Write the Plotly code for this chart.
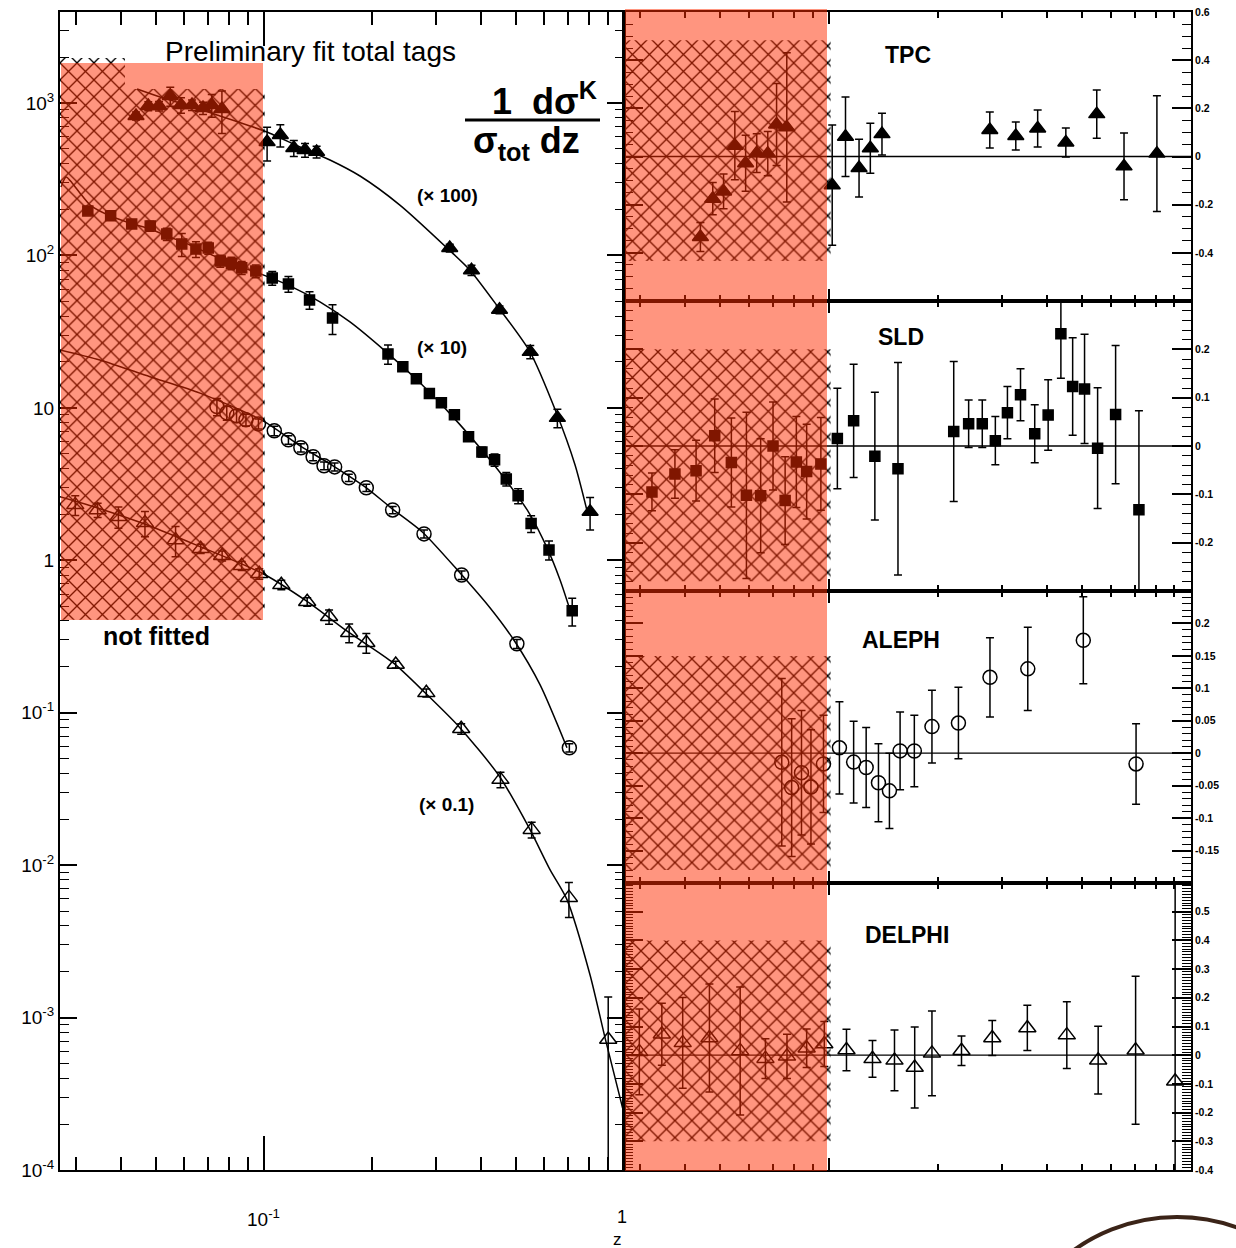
import plotly.graph_objects as go

W, H = 1236, 1248
def fx(p): return p / W
def fy(p): return 1 - p / H

FONT = "Liberation Sans, Arial, Helvetica, sans-serif"

# ---------------- data ----------------
# TPC (x100)
TPC_Z = [0.0441, 0.0477, 0.0511, 0.0549, 0.0588, 0.0631, 0.0677, 0.0716, 0.0764,
         0.102, 0.111, 0.121, 0.130, 0.140, 0.278, 0.328, 0.377, 0.451, 0.549, 0.653, 0.805]
TPC_LEFT = [822, 955, 955, 1111, 970, 970, 927, 970, 914,
            555, 617, 507, 492, 478, None, 112, 80, 44, 23.3, 8.6, 2.08]
TPC_RATIO = [-0.334, -0.175, -0.145, 0.045, -0.028, 0.014, 0.012, 0.133, 0.121,
             -0.119, 0.082, -0.048, 0.034, 0.093, 0.11, 0.085, 0.116, 0.058, 0.176, -0.041, 0.012]
TPC_ERR = [0.06, 0.067, 0.072, 0.142, 0.116, 0.08, 0.092, 0.17, 0.31,
           0.25, 0.165, 0.12, 0.104, 0.087, 0.075, 0.058, 0.077, 0.06, 0.1, 0.139, 0.24]
TPC_FIT_Z = [0.0444, 0.0514, 0.0623, 0.0755, 0.0914, 0.1019, 0.126, 0.1525, 0.1848,
             0.2385, 0.3223, 0.3734, 0.4467, 0.548, 0.6473, 0.7309, 0.7943]
TPC_FIT_Y = [1235, 1095, 956, 822, 707, 645, 514, 423, 332, 214, 112, 80, 45.9, 23.3, 9.42, 4.23, 1.99]

# SLD (x10)
SLD_Z = [0.0324, 0.0375, 0.0429, 0.0483, 0.0537, 0.0591, 0.0647, 0.0700, 0.0756, 0.0812,
         0.0867, 0.0949, 0.1054, 0.1169, 0.1338, 0.155, 0.221, 0.243, 0.265, 0.288,
         0.311, 0.338, 0.370, 0.403, 0.437, 0.471, 0.508, 0.552, 0.619, 0.718]
SLD_LEFT = [196, 182, 161, 156, 138, 119, 110, 112, 92, 89, 83, 79, 71, 65, 51, 38.9,
            22.6, 18.6, 15.5, 12.4, 10.8, 9.0, 6.46, 5.14, 4.56, 3.42, 2.65, 1.74, 1.17, 0.467]
SLD_RATIO = [-0.095, -0.058, -0.051, 0.021, -0.034, -0.102, -0.103, 0.0, -0.113, -0.033,
             -0.053, -0.037, 0.0155, 0.052, -0.021, -0.047, 0.030, 0.046, 0.046, 0.011,
             0.069, 0.106, 0.0255, 0.064, 0.232, 0.123, 0.118, -0.0045, 0.065, -0.132]
SLD_ERR = [0.039, 0.05, 0.063, 0.076, 0.092, 0.172, 0.118, 0.091, 0.091, 0.094,
           0.098, 0.096, 0.104, 0.117, 0.132, 0.22, 0.145, 0.049, 0.049, 0.05,
           0.054, 0.054, 0.06, 0.073, 0.092, 0.101, 0.113, 0.125, 0.143, 0.205]
SLD_FIT_Z = [0.0273, 0.0282, 0.0293, 0.0308, 0.0329, 0.0373, 0.0424, 0.0482, 0.0548, 0.0623,
             0.0708, 0.0804, 0.0994, 0.118, 0.143, 0.1733, 0.2183, 0.2712, 0.3328, 0.398,
             0.4642, 0.5446, 0.611, 0.664, 0.7079]
SLD_FIT_Y = [281, 327, 299, 257, 214, 182, 163, 149, 132, 117, 102, 89.3, 74.5, 63.1, 49.6,
             36.6, 23.3, 14.6, 8.86, 5.47, 3.48, 2.05, 1.21, 0.745, 0.473]

# ALEPH (x1)
ALEPH_Z = [0.074, 0.0788, 0.0839, 0.0891, 0.0965, 0.1068, 0.1169, 0.1266, 0.1369, 0.1468,
           0.1571, 0.172, 0.1924, 0.2277, 0.2783, 0.354, 0.504, 0.705]
ALEPH_LEFT = [10.2, 9.27, 8.87, 8.35, 7.85, 7.07, 6.17, 5.47, 4.78, 4.17, 4.10, 3.48,
              2.99, 2.14, 1.49, 0.80, 0.283, 0.0589]
ALEPH_RATIO = [-0.014, -0.053, -0.030, -0.052, -0.0165, 0.0083, -0.0137, -0.022, -0.0455,
               -0.058, 0.0036, 0.0034, 0.041, 0.0465, 0.117, 0.13, 0.174, -0.0165]
ALEPH_ERR = [0.129, 0.106, 0.096, 0.088, 0.075, 0.071, 0.063, 0.0615, 0.06, 0.058, 0.06,
             0.055, 0.056, 0.055, 0.061, 0.064, 0.067, 0.062]
ALEPH_FIT_Z = [0.0271, 0.035, 0.0482, 0.0664, 0.0994, 0.126, 0.1555, 0.1909, 0.2253, 0.2748,
               0.350, 0.4243, 0.498, 0.5843, 0.6944]
ALEPH_FIT_Y = [24.0, 20.6, 16.0, 12.5, 8.22, 5.63, 4.17, 3.03, 2.21, 1.54, 0.828, 0.488,
               0.292, 0.1527, 0.0589]

# DELPHI (x0.1)
DELPHI_Z = [0.0299, 0.0345, 0.0394, 0.0467, 0.0568, 0.0667, 0.0765, 0.0867, 0.097, 0.1117,
            0.1318, 0.1516, 0.1724, 0.1924, 0.2322, 0.2824, 0.353, 0.4538, 0.554, 0.703, 0.904]
DELPHI_LEFT = [2.31, 2.14, 1.93, 1.76, 1.36, 1.19, 1.07, 0.92, 0.815, 0.69, 0.534, 0.426,
               0.335, 0.288, 0.207, 0.135, 0.0785, 0.0364, 0.0171, 0.00612, 0.000718]
DELPHI_RATIO = [0.0116, 0.073, 0.043, 0.06, 0.015, -0.012, -0.004, 0.024, 0.039, 0.018,
                -0.0127, -0.018, -0.043, 0.0064, 0.0156, 0.06, 0.095, 0.07, -0.0174, 0.0174, -0.091]
DELPHI_ERR = [0.149, 0.108, 0.158, 0.188, 0.223, 0.069, 0.077, 0.067, 0.078, 0.072,
              0.064, 0.106, 0.141, 0.148, 0.0515, 0.061, 0.079, 0.116, 0.118, 0.258, 0.9]
DELPHI_FIT_Z = [0.0271, 0.035, 0.0482, 0.0664, 0.0994, 0.1308, 0.171, 0.2282, 0.2783, 0.348,
                0.4496, 0.5446, 0.6229, 0.6944, 0.8045, 0.8855, 0.9936]
DELPHI_FIT_Y = [2.61, 2.18, 1.68, 1.23, 0.816, 0.543, 0.340, 0.213, 0.1373, 0.081, 0.0386,
                0.0176, 0.00934, 0.00594, 0.00191, 0.000739, 0.000249]

# band limits (hatched regions)
Z_MIN = 0.0271
LEFT_BAND_LO, LEFT_BAND_HI, LEFT_BAND_TOP, Z_STEP = 0.407, 1235, 1973, 0.0411
RIGHT_BANDS = {"2": (-0.434, 0.483), "3": (-0.28, 0.2), "4": (-0.18, 0.15), "5": (-0.3, 0.4)}

# axis settings
XMIN_LOG = -1.5667
X_MINOR = [0.03, 0.04, 0.05, 0.06, 0.07, 0.08, 0.09, 0.2, 0.3, 0.4, 0.5, 0.6, 0.7, 0.8, 0.9]
LEFT_Y_TICKS = [1e-4, 1e-3, 1e-2, 1e-1, 1, 10, 100, 1000]
LEFT_Y_TEXT = ["10<sup>-4</sup>", "10<sup>-3</sup>", "10<sup>-2</sup>", "10<sup>-1</sup>",
               "1", "10", "10<sup>2</sup>", "10<sup>3</sup>"]

fig = go.Figure()

def hatch(xs, ys, xa, ya):
    fig.add_trace(go.Scatter(
        x=xs, y=ys, xaxis=xa, yaxis=ya, mode="lines", fill="toself",
        line=dict(width=0, color="rgba(0,0,0,0)"), fillcolor="rgba(0,0,0,0)",
        fillpattern=dict(shape="x", fgcolor="black", fgopacity=1, bgcolor="rgba(0,0,0,0)",
                         size=12, solidity=0.21),
        hoverinfo="skip", showlegend=False))

hatch([Z_MIN, Z_MIN, Z_STEP, Z_STEP, 0.1005, 0.1005, Z_MIN],
      [LEFT_BAND_LO, LEFT_BAND_TOP, LEFT_BAND_TOP, LEFT_BAND_HI, LEFT_BAND_HI, LEFT_BAND_LO, LEFT_BAND_LO],
      "x", "y")
for k, (lo, hi) in RIGHT_BANDS.items():
    hatch([Z_MIN, Z_MIN, 0.101, 0.101, Z_MIN], [lo, hi, hi, lo, lo], "x" + k, "y" + k)

def curve(z, y):
    fig.add_trace(go.Scatter(x=z, y=y, xaxis="x", yaxis="y", mode="lines",
                             line=dict(color="black", width=1.5, shape="spline", smoothing=0.7),
                             hoverinfo="skip", showlegend=False))

def points(z, v, err, sym, size, xa, ya):
    fig.add_trace(go.Scatter(
        x=z, y=v, xaxis=xa, yaxis=ya, mode="markers",
        marker=dict(symbol=sym, size=size, color="black", line=dict(width=1.5, color="black")),
        error_y=dict(type="data", array=err, visible=True, thickness=1.5, width=4, color="black"),
        showlegend=False))

def rel(vals, errs):
    return [None if v is None else v * e for v, e in zip(vals, errs)]

curve(TPC_FIT_Z, TPC_FIT_Y)
curve(SLD_FIT_Z, SLD_FIT_Y)
curve(ALEPH_FIT_Z, ALEPH_FIT_Y)
curve(DELPHI_FIT_Z, DELPHI_FIT_Y)

points(TPC_Z, TPC_LEFT, rel(TPC_LEFT, TPC_ERR), "triangle-up", 14, "x", "y")
points(SLD_Z, SLD_LEFT, rel(SLD_LEFT, SLD_ERR), "square", 10, "x", "y")
points(ALEPH_Z, ALEPH_LEFT, rel(ALEPH_LEFT, ALEPH_ERR), "circle-open", 14, "x", "y")
points(DELPHI_Z, DELPHI_LEFT, rel(DELPHI_LEFT, DELPHI_ERR), "triangle-up-open", 15, "x", "y")

points(TPC_Z, TPC_RATIO, TPC_ERR, "triangle-up", 14, "x2", "y2")
points(SLD_Z, SLD_RATIO, SLD_ERR, "square", 10, "x3", "y3")
points(ALEPH_Z, ALEPH_RATIO, ALEPH_ERR, "circle-open", 14, "x4", "y4")
points(DELPHI_Z, DELPHI_RATIO, DELPHI_ERR, "triangle-up-open", 15, "x5", "y5")

# ---------------- layout ----------------
def xax(d0, d1, anchor, mlen, nlen):
    return dict(type="log", range=[XMIN_LOG, 0.0], domain=[fx(d0), fx(d1)], anchor=anchor,
                automargin=False,
                showline=True, linewidth=2, linecolor="black", mirror="allticks",
                ticks="inside", tickvals=[0.1, 1], ticklen=mlen, tickwidth=1.5, tickcolor="black",
                showticklabels=False, showgrid=False, zeroline=False,
                minor=dict(tickvals=X_MINOR, ticks="inside", ticklen=nlen, tickwidth=1.5,
                           tickcolor="black", showgrid=False))

def ryax(top, bot, anchor, rng, majors, mdt):
    return dict(range=rng, domain=[fy(bot), fy(top)], anchor=anchor, side="right",
                automargin=False,
                showline=True, linewidth=2, linecolor="black", mirror="allticks",
                ticks="inside", tickvals=majors, ticktext=["<b>%g</b>" % v for v in majors],
                ticklen=19, tickwidth=1.5, tickcolor="black", tickfont=dict(size=10.5, color="black"),
                showgrid=False, zeroline=False,
                minor=dict(dtick=mdt, tick0=0, ticks="inside", ticklen=9, tickwidth=1.3,
                           tickcolor="black", showgrid=False))

left_minor_y = [k * 10.0 ** e for e in range(-4, 4) for k in range(2, 10)]

layout = dict(
    width=W, height=H, autosize=False, margin=dict(l=0, r=0, t=0, b=0, pad=0, autoexpand=False),
    paper_bgcolor="white", plot_bgcolor="white", showlegend=False,
    font=dict(family=FONT, color="black"),
    xaxis=xax(60, 624, "y", 34, 13),
    yaxis=dict(type="log", range=[-4, 3.597], domain=[fy(1170), fy(12)], anchor="x",
               automargin=False,
               showline=True, linewidth=2, linecolor="black", mirror="allticks",
               ticks="inside", tickvals=LEFT_Y_TICKS, ticktext=LEFT_Y_TEXT, ticklen=17,
               tickwidth=1.5, tickcolor="black", tickfont=dict(size=19, color="black"),
               showgrid=False, zeroline=False,
               minor=dict(tickvals=left_minor_y, ticks="inside", ticklen=9, tickwidth=1.3,
                          tickcolor="black", showgrid=False)),
    xaxis2=xax(624, 1191, "y2", 12, 6),
    xaxis3=xax(624, 1191, "y3", 12, 6),
    xaxis4=xax(624, 1191, "y4", 12, 6),
    xaxis5=xax(624, 1191, "y5", 12, 6),
    yaxis2=ryax(12, 301, "x2", [-0.6, 0.6], [-0.4, -0.2, 0, 0.2, 0.4, 0.6], 0.05),
    yaxis3=ryax(301, 591, "x3", [-0.3, 0.3], [-0.2, -0.1, 0, 0.1, 0.2], 0.02),
    yaxis4=ryax(591, 883, "x4", [-0.2, 0.25], [-0.15, -0.1, -0.05, 0, 0.05, 0.1, 0.15, 0.2], 0.01),
    yaxis5=ryax(883, 1170, "x5", [-0.4, 0.6], [-0.4, -0.3, -0.2, -0.1, 0, 0.1, 0.2, 0.3, 0.4, 0.5], 0.01),
)
fig.update_layout(**layout)

shapes = []
for k in ["2", "3", "4", "5"]:
    shapes.append(dict(type="line", xref="x%s domain" % k, yref="y" + k, x0=0, x1=1, y0=0, y1=0,
                       line=dict(color="black", width=1.3), layer="below"))
RED = "rgba(255,43,0,0.5)"
shapes.append(dict(type="rect", xref="paper", yref="paper", x0=fx(61), x1=fx(263),
                   y0=fy(620), y1=fy(63), fillcolor=RED, line=dict(width=0), layer="above"))
shapes.append(dict(type="rect", xref="paper", yref="paper", x0=fx(625), x1=fx(827),
                   y0=fy(1171), y1=fy(9), fillcolor=RED, line=dict(width=0), layer="above"))
shapes.append(dict(type="line", xref="paper", yref="paper", x0=fx(465), x1=fx(600),
                   y0=fy(120), y1=fy(120), line=dict(color="black", width=3), layer="above"))
shapes.append(dict(type="circle", xref="paper", yref="paper", x0=fx(1000), x1=fx(1354),
                   y0=fy(1571), y1=fy(1217), line=dict(color="#3b2418", width=4),
                   fillcolor="rgba(0,0,0,0)", layer="above"))
fig.update_layout(shapes=shapes)

def ann(text, x, y, size, bold=False, xanchor="center"):
    return dict(text=("<b>%s</b>" % text) if bold else text, x=fx(x), y=fy(y),
                xref="paper", yref="paper", xanchor=xanchor, yanchor="middle",
                showarrow=False, font=dict(size=size, family=FONT, color="black"))

annotations = [
    ann("Preliminary fit total tags", 310, 52, 28),
    ann("not fitted", 156, 636, 25, bold=True),
    ann("(× 100)", 447, 195, 19, bold=True),
    ann("(× 10)", 442, 347, 19, bold=True),
    ann("(× 0.1)", 446, 804, 19, bold=True),
    ann("1  dσ<sup>K</sup>", 544, 99, 36, bold=True),
    ann("σ<sub>tot</sub> dz", 526, 143, 36, bold=True),
    ann("TPC", 908, 55, 23, bold=True),
    ann("SLD", 901, 337, 23, bold=True),
    ann("ALEPH", 901, 640, 23, bold=True),
    ann("DELPHI", 907, 935, 23, bold=True),
    ann("10<sup>-1</sup>", 263, 1218, 19),
    ann("1", 622, 1217, 18),
    ann("z", 617, 1239, 17),
]
fig.update_layout(annotations=annotations)

fig.write_html("out.html")
